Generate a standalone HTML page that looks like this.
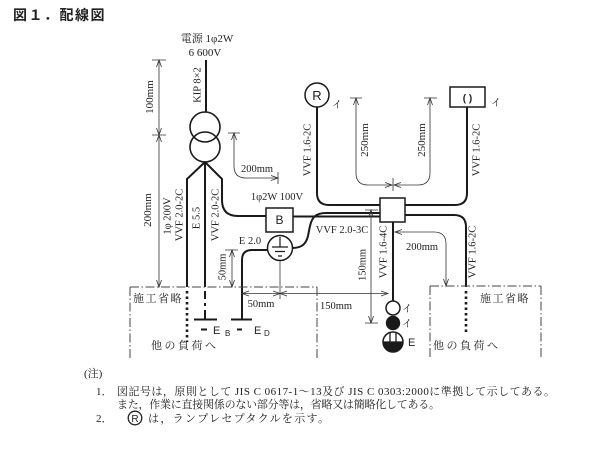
<!DOCTYPE html>
<html><head><meta charset="utf-8"><style>
html,body{margin:0;padding:0;background:#fff;}
svg{display:block;}
.s{font-family:"Liberation Serif","Noto Serif CJK SC",serif;fill:#222;}
.g{font-family:"Liberation Sans","Noto Sans CJK JP",sans-serif;fill:#222;}
.w{fill:none;stroke:#1a1a1a;stroke-width:2;}
.d{fill:none;stroke:#333;stroke-width:0.8;}
.c{fill:none;stroke:#444;stroke-width:1;stroke-dasharray:9,2.5,1.5,2.5;}
</style></head><body>
<svg width="600" height="453" viewBox="0 0 600 453" xmlns="http://www.w3.org/2000/svg">
<rect width="600" height="453" fill="#fff"/>
<!-- title -->
<text x="13" y="20" font-family="'Noto Sans CJK JP',sans-serif" font-weight="bold" font-size="14" letter-spacing="1.5" fill="#222">図１．配線図</text>

<!-- top label -->
<text class="s" x="207" y="42" font-size="11" text-anchor="middle">電源 1φ2W</text>
<text class="s" x="205" y="56" font-size="11" text-anchor="middle">6 600V</text>

<!-- KIP -->
<path class="w" d="M206,60 L206,112" stroke-width="2.4"/>
<text class="s" font-size="10.5" text-anchor="middle" dominant-baseline="central" transform="translate(198,85) rotate(-90)">KIP 8×2</text>

<!-- transformer -->
<circle cx="205" cy="127" r="15" fill="none" stroke="#1a1a1a" stroke-width="1.6"/>
<circle cx="205" cy="147" r="15" fill="none" stroke="#1a1a1a" stroke-width="1.6"/>
<polyline class="w" points="205,162 187,179 187,287"/>
<path class="w" d="M205,162 L205,287"/>
<path class="w" d="M205,291 L205,299 M205,303 L205,306 M205,310 L205,319"/>
<path class="w" d="M205,162 L222,179 L222,200 Q222,216 238,216 L266,216"/>
<path d="M187,291 L187,342" fill="none" stroke="#1a1a1a" stroke-width="2.6" stroke-dasharray="2.5,3"/>

<!-- EB ground -->
<path class="w" d="M194,319.5 L217,319.5 M201,329.5 L207,329.5"/>
<text class="g" x="213" y="334" font-size="11">E</text>
<text class="g" x="225" y="336" font-size="8">B</text>

<!-- ED -->
<path class="w" d="M268,250 L252,250 Q242,250 242,260 L242,319"/>
<path class="w" d="M231,319.5 L252,319.5 M237,329.5 L242,329.5"/>
<text class="g" x="254" y="334" font-size="11">E</text>
<text class="g" x="264" y="336" font-size="8">D</text>
<text class="s" x="250" y="244" font-size="10.5" text-anchor="middle">E 2.0</text>

<!-- ground circle -->
<circle cx="280" cy="248" r="12.5" fill="#fff" stroke="#1a1a1a" stroke-width="1.5"/>
<path d="M280,237 L280,247 M272,247 L288,247 M275,251.5 L285,251.5 M278,256 L282,256" stroke="#1a1a1a" stroke-width="1.2" fill="none"/>
<path class="d" d="M280,261 L280,299"/>

<!-- B box -->
<rect x="266" y="208" width="27" height="24" fill="#fff" stroke="#1a1a1a" stroke-width="1.5"/>
<text class="g" x="279.5" y="224" font-size="12" text-anchor="middle">B</text>
<text class="s" x="277" y="200" font-size="10.5" text-anchor="middle">1φ2W 100V</text>

<!-- wires to junction -->
<path class="w" d="M293,216.5 L380,216.5"/>
<path class="w" d="M292,248 C302,248 306,244 308,236 L310,226 C312,217 316,213 326,213 L380,213"/>
<text class="s" x="342" y="233" font-size="10.5" text-anchor="middle">VVF 2.0-3C</text>

<!-- R outlet -->
<path class="w" d="M317,107 L317,193 Q317,205 329,205 L380,205"/>
<circle cx="317" cy="95" r="12" fill="#fff" stroke="#1a1a1a" stroke-width="1.5"/>
<text class="g" x="317" y="100" font-size="13" text-anchor="middle">R</text>
<text class="s" x="332" y="108" font-size="10">イ</text>
<text class="s" font-size="10.5" text-anchor="middle" dominant-baseline="central" transform="translate(308,150) rotate(-90)">VVF 1.6-2C</text>

<!-- paren box -->
<path class="w" d="M467,107 L467,193 Q467,205 455,205 L405,205"/>
<rect x="450" y="87" width="35" height="20" fill="#fff" stroke="#1a1a1a" stroke-width="1.5"/>
<text class="g" x="467.5" y="101.5" font-size="10" font-weight="bold" text-anchor="middle">( )</text>
<text class="s" x="491" y="106" font-size="10">イ</text>
<text class="s" font-size="10.5" text-anchor="middle" dominant-baseline="central" transform="translate(477,150) rotate(-90)">VVF 1.6-2C</text>

<!-- right lower wire -->
<path class="w" d="M405,215 L454,215 Q466,215 466,227 L466,287"/>
<path d="M466,291 L466,334" fill="none" stroke="#1a1a1a" stroke-width="2.6" stroke-dasharray="2.5,3"/>
<text class="s" font-size="10.5" text-anchor="middle" dominant-baseline="central" transform="translate(473,252) rotate(-90)">VVF 1.6-2C</text>

<!-- junction box -->
<rect x="380" y="198" width="25" height="24" fill="#fff" stroke="#1a1a1a" stroke-width="1.5"/>

<!-- down wire -->
<path class="w" d="M393,222 L393,301"/>
<text class="s" font-size="10.5" text-anchor="middle" dominant-baseline="central" transform="translate(384,252) rotate(-90)">VVF 1.6-4C</text>

<!-- outlet assembly -->
<circle cx="393" cy="308" r="7" fill="#fff" stroke="#1a1a1a" stroke-width="1.5"/>
<circle cx="393" cy="323" r="7.2" fill="#1a1a1a"/>
<circle cx="393" cy="342" r="10" fill="#fff" stroke="#1a1a1a" stroke-width="1.5"/>
<path d="M383,342 A10,10 0 0,0 403,342 Z" fill="#1a1a1a"/>
<path d="M383,342 L403,342 M390,332.5 L390,342 M396,332.5 L396,342" stroke="#1a1a1a" stroke-width="1.3" fill="none"/>
<text class="s" x="402" y="312" font-size="10">イ</text>
<text class="s" x="402" y="327" font-size="10">イ</text>
<text class="g" x="408" y="346" font-size="11">E</text>

<!-- boundaries -->
<path class="c" d="M130,287 L317,287 M130,287 L130,358 M317,287 L317,358"/>
<path class="c" d="M430,286 L541,286 M430,286 L430,358 M541,286 L541,358"/>
<text class="s" x="133" y="302" font-size="11" letter-spacing="1.5">施工省略</text>
<text class="s" x="151" y="349" font-size="11" letter-spacing="2.5">他の負荷へ</text>
<text class="s" x="480" y="302" font-size="11" letter-spacing="1.5">施工省略</text>
<text class="s" x="433" y="349" font-size="11" letter-spacing="2.5">他の負荷へ</text>

<!-- left dimension 100 / 200 -->
<path class="d" d="M152,60 L166,60 M152,135 L166,135 M159,60 L159,287"/>
<polyline class="d" points="156.5,67 159,60 161.5,67"/>
<polyline class="d" points="156.5,128 159,135 161.5,128"/>
<polyline class="d" points="156.5,142 159,135 161.5,142"/>
<polyline class="d" points="156.5,280 159,287 161.5,280"/>
<text class="s" font-size="11" text-anchor="middle" dominant-baseline="central" transform="translate(150,97) rotate(-90)">100mm</text>
<text class="s" font-size="11" text-anchor="middle" dominant-baseline="central" transform="translate(148,210) rotate(-90)">200mm</text>

<!-- rotated wire labels left -->
<text class="s" font-size="10.5" text-anchor="middle" dominant-baseline="central" transform="translate(168,216) rotate(-90)">1φ 200V</text>
<text class="s" font-size="10.5" text-anchor="middle" dominant-baseline="central" transform="translate(180,215) rotate(-90)">VVF 2.0-2C</text>
<text class="s" font-size="10.5" text-anchor="middle" dominant-baseline="central" transform="translate(197,218) rotate(-90)">E 5.5</text>
<text class="s" font-size="10.5" text-anchor="middle" dominant-baseline="central" transform="translate(216,215) rotate(-90)">VVF 2.0-2C</text>

<!-- transformer 200mm dim -->
<path class="d" d="M228,133 L240,133 M234,133 L234,166 Q234,178 246,178 L278,178 M278,172 L278,184"/>
<polyline class="d" points="231.5,140 234,133 236.5,140"/>
<polyline class="d" points="271,175.5 278,178 271,180.5"/>
<text class="s" x="257" y="172" font-size="10.5" text-anchor="middle">200mm</text>

<!-- 250mm dims -->
<path class="d" d="M350,98 L362,98 M356,98 L356,173 Q356,185 368,185 L392,185"/>
<path class="d" d="M424,98 L437,98 M430,98 L430,173 Q430,185 418,185 L394,185 M393,178 L393,191"/>
<polyline class="d" points="353.5,105 356,98 358.5,105"/>
<polyline class="d" points="427.5,105 430,98 432.5,105"/>
<polyline class="d" points="385,182.5 392,185 385,187.5"/>
<polyline class="d" points="401,182.5 394,185 401,187.5"/>
<text class="s" font-size="11" text-anchor="middle" dominant-baseline="central" transform="translate(365,140) rotate(-90)">250mm</text>
<text class="s" font-size="11" text-anchor="middle" dominant-baseline="central" transform="translate(422,140) rotate(-90)">250mm</text>

<!-- 50mm vertical -->
<path class="d" d="M225,250 L238,250 M232,250 L232,287"/>
<polyline class="d" points="229.5,257 232,250 234.5,257"/>
<polyline class="d" points="229.5,280 232,287 234.5,280"/>
<text class="s" font-size="10.5" text-anchor="middle" dominant-baseline="central" transform="translate(223,267) rotate(-90)">50mm</text>

<!-- 50mm / 150mm horizontal -->
<path class="d" d="M242,293.5 L388,293.5"/>
<polyline class="d" points="249,291 242,293.5 249,296"/>
<polyline class="d" points="273,291 280,293.5 273,296"/>
<polyline class="d" points="287,291 280,293.5 287,296"/>
<polyline class="d" points="381,291 388,293.5 381,296"/>
<text class="s" x="261" y="307" font-size="10.5" text-anchor="middle">50mm</text>
<text class="s" x="336" y="309" font-size="10.5" text-anchor="middle">150mm</text>

<!-- 150mm vertical -->
<path class="d" d="M365,210 L378,210 M365,323 L378,323 M371,210 L371,323"/>
<polyline class="d" points="368.5,217 371,210 373.5,217"/>
<polyline class="d" points="368.5,316 371,323 373.5,316"/>
<text class="s" font-size="10.5" text-anchor="middle" dominant-baseline="central" transform="translate(363,265) rotate(-90)">150mm</text>

<!-- right 200mm -->
<path class="d" d="M395,232 L434,232 Q446,232 446,244 L446,286"/>
<polyline class="d" points="402,229.5 395,232 402,234.5"/>
<polyline class="d" points="443.5,279 446,286 448.5,279"/>
<text class="s" x="422" y="250" font-size="10.5" text-anchor="middle">200mm</text>

<!-- notes -->
<text class="s" x="84" y="377" font-size="11">(注)</text>
<text class="s" x="96" y="395" font-size="11">1．</text>
<text class="s" x="117" y="395" font-size="11" textLength="438" lengthAdjust="spacing">図記号は，原則として JIS C 0617-1～13及び JIS C 0303:2000に準拠して示してある。</text>
<text class="s" x="117" y="408" font-size="11" textLength="323" lengthAdjust="spacing">また，作業に直接関係のない部分等は，省略又は簡略化してある。</text>
<text class="s" x="96" y="422" font-size="11">2．</text>
<circle cx="135" cy="418" r="6.8" fill="none" stroke="#222" stroke-width="1.3"/>
<text class="g" x="135" y="422" font-size="10" text-anchor="middle">R</text>
<text class="s" x="148" y="422" font-size="11" textLength="181" lengthAdjust="spacing">は，ランプレセプタクルを示す。</text>
</svg>
</body></html>
